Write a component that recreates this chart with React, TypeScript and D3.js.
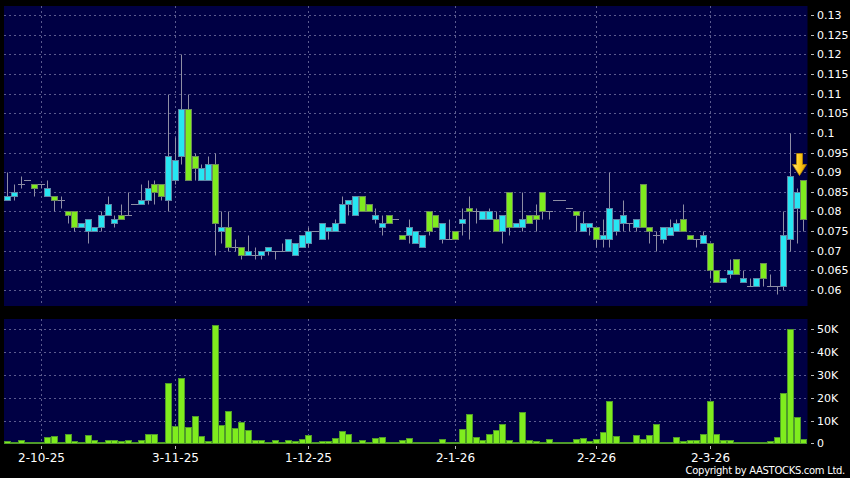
import React from "react";
import * as d3 from "d3";

// ---- Data ----
const opens = [
  0.083, 0.084, 0.087, 0.088, 0.087, 0.087, 0.084, 0.084, 0.083, 0.080,
  0.080, 0.076, 0.075, 0.075, 0.076, 0.079, 0.077, 0.079, 0.079, 0.082,
  0.082, 0.083, 0.087, 0.087, 0.083, 0.088, 0.094, 0.106, 0.094, 0.088,
  0.088, 0.092, 0.075, 0.076, 0.071, 0.071, 0.069, 0.069, 0.069, 0.070,
  0.070, 0.070, 0.070, 0.069, 0.071, 0.072, 0.075, 0.073, 0.075, 0.075,
  0.077, 0.082, 0.079, 0.084, 0.082, 0.078, 0.076, 0.079, 0.078, 0.074,
  0.074, 0.072, 0.071, 0.080, 0.079, 0.073, 0.073, 0.075, 0.077, 0.081,
  0.080, 0.078, 0.078, 0.078, 0.075, 0.085, 0.076, 0.076, 0.079, 0.079,
  0.085, 0.080, 0.083, 0.083, 0.081, 0.080, 0.075, 0.076, 0.076, 0.073,
  0.073, 0.075, 0.077, 0.077, 0.076, 0.087, 0.076, 0.074, 0.073, 0.074,
  0.075, 0.078, 0.074, 0.073, 0.072, 0.072, 0.065, 0.062, 0.064, 0.068,
  0.062, 0.061, 0.061, 0.067, 0.061, 0.061, 0.061, 0.073, 0.081, 0.088,
];
const highs = [
  0.090, 0.087, 0.089, 0.088, 0.087, 0.087, 0.088, 0.084, 0.084, 0.080,
  0.080, 0.077, 0.078, 0.076, 0.080, 0.084, 0.079, 0.082, 0.085, 0.082,
  0.087, 0.088, 0.088, 0.087, 0.110, 0.099, 0.120, 0.110, 0.095, 0.092,
  0.094, 0.095, 0.080, 0.080, 0.073, 0.071, 0.074, 0.071, 0.070, 0.071,
  0.070, 0.072, 0.073, 0.072, 0.074, 0.076, 0.075, 0.077, 0.076, 0.078,
  0.084, 0.083, 0.084, 0.084, 0.082, 0.081, 0.079, 0.079, 0.078, 0.074,
  0.078, 0.075, 0.074, 0.080, 0.079, 0.077, 0.078, 0.075, 0.081, 0.084,
  0.081, 0.080, 0.081, 0.080, 0.079, 0.085, 0.077, 0.085, 0.079, 0.082,
  0.085, 0.080, 0.083, 0.083, 0.081, 0.080, 0.080, 0.077, 0.076, 0.078,
  0.090, 0.078, 0.083, 0.077, 0.078, 0.087, 0.076, 0.075, 0.076, 0.078,
  0.078, 0.082, 0.074, 0.073, 0.075, 0.072, 0.065, 0.063, 0.068, 0.068,
  0.065, 0.063, 0.063, 0.067, 0.064, 0.061, 0.080, 0.100, 0.086, 0.088,
];
const lows = [
  0.083, 0.083, 0.086, 0.088, 0.084, 0.086, 0.084, 0.080, 0.081, 0.077,
  0.075, 0.076, 0.072, 0.075, 0.075, 0.079, 0.076, 0.078, 0.079, 0.082,
  0.082, 0.082, 0.082, 0.083, 0.080, 0.087, 0.092, 0.088, 0.088, 0.088,
  0.088, 0.069, 0.072, 0.070, 0.070, 0.068, 0.069, 0.068, 0.068, 0.069,
  0.068, 0.070, 0.070, 0.069, 0.071, 0.071, 0.075, 0.073, 0.073, 0.075,
  0.077, 0.079, 0.079, 0.080, 0.080, 0.077, 0.074, 0.077, 0.078, 0.073,
  0.072, 0.072, 0.071, 0.074, 0.076, 0.072, 0.073, 0.073, 0.074, 0.073,
  0.077, 0.078, 0.078, 0.075, 0.072, 0.074, 0.076, 0.075, 0.077, 0.075,
  0.078, 0.078, 0.083, 0.083, 0.081, 0.075, 0.075, 0.074, 0.071, 0.071,
  0.071, 0.074, 0.075, 0.075, 0.075, 0.076, 0.072, 0.070, 0.072, 0.074,
  0.075, 0.075, 0.073, 0.071, 0.072, 0.063, 0.062, 0.062, 0.063, 0.064,
  0.062, 0.061, 0.061, 0.061, 0.061, 0.059, 0.060, 0.070, 0.072, 0.075,
];
const closes = [
  0.084, 0.085, 0.087, 0.088, 0.086, 0.087, 0.086, 0.083, 0.083, 0.079,
  0.076, 0.077, 0.078, 0.076, 0.079, 0.082, 0.078, 0.078, 0.079, 0.082,
  0.083, 0.086, 0.085, 0.084, 0.094, 0.093, 0.106, 0.088, 0.091, 0.091,
  0.092, 0.077, 0.076, 0.071, 0.071, 0.069, 0.070, 0.069, 0.070, 0.071,
  0.070, 0.070, 0.073, 0.072, 0.074, 0.075, 0.075, 0.077, 0.076, 0.077,
  0.082, 0.083, 0.084, 0.080, 0.080, 0.079, 0.077, 0.077, 0.078, 0.073,
  0.076, 0.075, 0.074, 0.075, 0.076, 0.077, 0.073, 0.073, 0.078, 0.080,
  0.080, 0.080, 0.080, 0.075, 0.079, 0.076, 0.077, 0.078, 0.077, 0.078,
  0.080, 0.080, 0.083, 0.083, 0.081, 0.079, 0.077, 0.077, 0.073, 0.074,
  0.081, 0.078, 0.079, 0.077, 0.078, 0.076, 0.075, 0.074, 0.076, 0.076,
  0.077, 0.075, 0.073, 0.073, 0.074, 0.065, 0.062, 0.063, 0.065, 0.064,
  0.063, 0.061, 0.063, 0.063, 0.061, 0.061, 0.074, 0.089, 0.085, 0.078,
];
// volume in shares
const volumes = [
  1000, 200, 1500, 100, 200, 200, 2800, 3200, 100, 3900,
  900, 100, 3500, 1300, 200, 1300, 1300, 900, 1300, 100,
  1300, 3900, 4100, 100, 26500, 7500, 28700, 7200, 12000, 3200,
  900, 51900, 8000, 14000, 6700, 9500, 5800, 1300, 1300, 600,
  1500, 100, 1300, 1000, 1900, 3700, 100, 1000, 900, 2200,
  5300, 4100, 100, 1500, 100, 2200, 2600, 300, 100, 1300,
  2300, 500, 700, 400, 100, 2000, 400, 200, 6400, 12900,
  2800, 1300, 4100, 5700, 8500, 1300, 400, 13900, 1300, 1200,
  400, 1800, 100, 100, 100, 1800, 2300, 1000, 1800, 5000,
  18700, 3100, 700, 200, 3800, 2000, 3500, 8600, 100, 200,
  2900, 900, 1600, 1600, 4200, 18400, 4200, 1600, 1600, 300,
  300, 300, 300, 300, 1000, 2800, 22200, 50000, 11500, 1800,
];

const dateTickLabels = ["2-10-25", "3-11-25", "1-12-25", "2-1-26", "2-2-26", "2-3-26"];
const dateTickIndex = [5, 25, 45, 67, 88, 105];
const priceTicks = [0.06, 0.065, 0.07, 0.075, 0.08, 0.085, 0.09, 0.095, 0.1, 0.105, 0.11, 0.115, 0.12, 0.125, 0.13];
const volumeTicks = [0, 10000, 20000, 30000, 40000, 50000];
const volumeTickLabels = ["0", "10K", "20K", "30K", "40K", "50K"];

// ---- Layout ----
const W = 850;
const H = 478;
const panelLeft = 4;
const panelRight = 807.5;
const mainTop = 6;
const mainBottom = 306;
const volTop = 319;
const volBottom = 444;

const UP = "#27e6f2";
const DOWN = "#7fec1e";
const NAVY = "#000044";
const GRID = "#5b5b8e";
const WICK = "#8e8ea4";
const FONT = "'DejaVu Sans', Verdana, sans-serif";

export default function App() {
  const n = opens.length;
  const x = d3.scaleLinear().domain([0, n - 1]).range([7.3, 803.3]);
  const y = d3.scaleLinear().domain([0.06, 0.13]).range([290, 15]);
  const yv = d3.scaleLinear().domain([0, 50000]).range([443.3, 329.3]);
  const fmtPrice = (v: number) => String(+v.toFixed(3));
  const py = (v: number) => Math.round(y(v)) + 0.5;

  const lastX = Math.round(x(n - 1));
  const arrowCx = lastX - 3.5;
  const arrowTip = py(highs[n - 1]) - 5;

  return (
    <svg
      width={W}
      height={H}
      style={{ position: "absolute", left: 0, top: 0, display: "block" }}
      xmlns="http://www.w3.org/2000/svg"
    >
      <defs>
        <linearGradient id="arrowGrad" x1="0" x2="1" y1="0" y2="0">
          <stop offset="0" stopColor="#ffe680" />
          <stop offset="0.5" stopColor="#ffcc1a" />
          <stop offset="1" stopColor="#d99a00" />
        </linearGradient>
      </defs>
      <rect x={0} y={0} width={W} height={H} fill="#000" />
      {/* panels */}
      <rect x={panelLeft} y={mainTop} width={panelRight - panelLeft} height={mainBottom - mainTop} fill={NAVY} />
      <rect x={panelLeft} y={volTop} width={panelRight - panelLeft} height={volBottom - volTop} fill={NAVY} />

      {/* horizontal grid - price */}
      {priceTicks.map((t) => (
        <line key={"pg" + t} x1={panelLeft} x2={panelRight} y1={py(t)} y2={py(t)} stroke={GRID} strokeDasharray="2,3" />
      ))}
      {/* horizontal grid - volume */}
      {volumeTicks.filter((t) => t > 0).map((t) => (
        <line key={"vg" + t} x1={panelLeft} x2={panelRight} y1={Math.round(yv(t)) + 0.5} y2={Math.round(yv(t)) + 0.5} stroke={GRID} strokeDasharray="2,3" />
      ))}
      {/* vertical grid */}
      {dateTickIndex.map((i) => {
        const gx = Math.round(x(i)) + 0.5;
        return (
          <g key={"vgx" + i}>
            <line x1={gx} x2={gx} y1={mainTop} y2={mainBottom} stroke={GRID} strokeDasharray="2,3" />
            <line x1={gx} x2={gx} y1={volTop} y2={volBottom} stroke={GRID} strokeDasharray="2,3" />
          </g>
        );
      })}

      {/* candles */}
      {opens.map((o, i) => {
        const c = closes[i];
        const cx = Math.round(x(i));
        const up = c > o;
        const flat = c === o;
        const top = py(Math.max(o, c));
        const bot = py(Math.min(o, c));
        return (
          <g key={"c" + i}>
            {highs[i] !== lows[i] && (
              <line x1={cx + 0.5} x2={cx + 0.5} y1={py(highs[i])} y2={py(lows[i])} stroke={WICK} strokeWidth={1} />
            )}
            {flat ? (
              <line x1={cx - 3} x2={cx + 4} y1={top} y2={top} stroke={WICK} strokeWidth={1} />
            ) : (
              <rect
                x={cx - 2.5}
                y={top}
                width={6}
                height={bot - top}
                fill={up ? UP : DOWN}
                stroke={up ? "#5f86a6" : "#6c8a5a"}
                strokeWidth={1}
              />
            )}
          </g>
        );
      })}

      {/* volume bars */}
      {volumes.map((v, i) => {
        const cx = Math.round(x(i));
        const top = Math.round(yv(v)) + 0.5;
        const base = Math.round(yv(0)) + 0.5;
        return (
          <rect
            key={"v" + i}
            x={cx - 2.5}
            y={Math.min(top, base - 1)}
            width={6}
            height={Math.max(base - top, 1)}
            fill={DOWN}
            stroke="#4f9a2a"
            strokeWidth={1}
          />
        );
      })}

      {/* arrow marker on last candle */}
      <path
        d={`M${arrowCx - 3},${arrowTip - 22} L${arrowCx + 3},${arrowTip - 22} L${arrowCx + 3},${arrowTip - 11} L${arrowCx + 7},${arrowTip - 11} L${arrowCx},${arrowTip} L${arrowCx - 7},${arrowTip - 11} L${arrowCx - 3},${arrowTip - 11} Z`}
        fill="url(#arrowGrad)"
        stroke="#b88400"
        strokeWidth={0.8}
      />

      {/* price axis */}
      {priceTicks.map((t) => (
        <g key={"pt" + t}>
          <line x1={811} x2={814} y1={py(t)} y2={py(t)} stroke="#bbb" />
          <text x={817} y={py(t)} dy="0.36em" fill="#fff" fontSize={11} fontFamily={FONT}>
            {fmtPrice(t)}
          </text>
        </g>
      ))}
      {/* volume axis */}
      {volumeTicks.map((t, k) => (
        <g key={"vt" + t}>
          <line x1={811} x2={814} y1={Math.round(yv(t)) + 0.5} y2={Math.round(yv(t)) + 0.5} stroke="#bbb" />
          <text x={817} y={Math.round(yv(t)) + 0.5} dy="0.36em" fill="#fff" fontSize={11} fontFamily={FONT}>
            {volumeTickLabels[k]}
          </text>
        </g>
      ))}
      {/* date axis */}
      {dateTickIndex.map((i, k) => {
        const tx = Math.round(x(i)) + 0.5;
        return (
          <g key={"dt" + i}>
            <line x1={tx} x2={tx} y1={446} y2={449} stroke="#bbb" />
            <text x={tx} y={462} textAnchor="middle" fill="#fff" fontSize={12} fontFamily={FONT}>
              {dateTickLabels[k]}
            </text>
          </g>
        );
      })}
      <text
        x={845}
        y={474}
        textAnchor="end"
        fill="#fff"
        fontSize={10}
        fontFamily={FONT}
        letterSpacing={-0.3}
      >
        Copyright by AASTOCKS.com Ltd.
      </text>
    </svg>
  );
}
